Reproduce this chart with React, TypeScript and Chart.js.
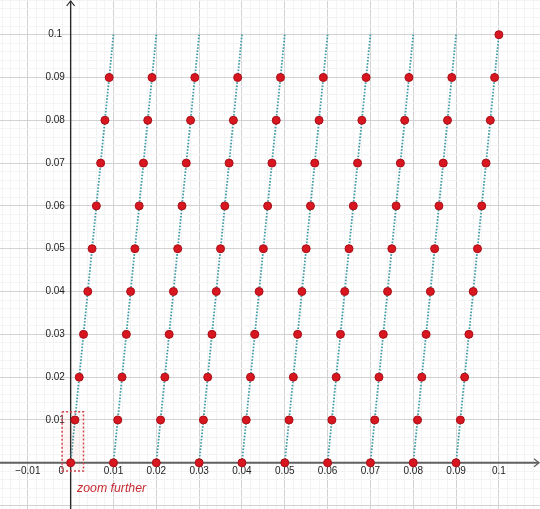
import { useEffect, useRef } from 'react';
import { Chart, registerables } from 'chart.js';

Chart.register(...registerables);

// visible window of the graph
const X_MIN = -0.0165;
const X_MAX = 0.1096;
const Y_MIN = -0.0108;
const Y_MAX = 0.1081;

// heights of the point rows
const yLevels = [0, 0.01, 0.02, 0.03, 0.04, 0.05, 0.06, 0.07, 0.08, 0.09];

// x of the points in each slanted column (bottom to top)
const col0 = [0, 0.001, 0.002, 0.003, 0.004, 0.005, 0.006, 0.007, 0.008, 0.009];
const col1 = [0.01, 0.011, 0.012, 0.013, 0.014, 0.015, 0.016, 0.017, 0.018, 0.019];
const col2 = [0.02, 0.021, 0.022, 0.023, 0.024, 0.025, 0.026, 0.027, 0.028, 0.029];
const col3 = [0.03, 0.031, 0.032, 0.033, 0.034, 0.035, 0.036, 0.037, 0.038, 0.039];
const col4 = [0.04, 0.041, 0.042, 0.043, 0.044, 0.045, 0.046, 0.047, 0.048, 0.049];
const col5 = [0.05, 0.051, 0.052, 0.053, 0.054, 0.055, 0.056, 0.057, 0.058, 0.059];
const col6 = [0.06, 0.061, 0.062, 0.063, 0.064, 0.065, 0.066, 0.067, 0.068, 0.069];
const col7 = [0.07, 0.071, 0.072, 0.073, 0.074, 0.075, 0.076, 0.077, 0.078, 0.079];
const col8 = [0.08, 0.081, 0.082, 0.083, 0.084, 0.085, 0.086, 0.087, 0.088, 0.089];
const col9 = [0.09, 0.091, 0.092, 0.093, 0.094, 0.095, 0.096, 0.097, 0.098, 0.099];
const columns = [col0, col1, col2, col3, col4, col5, col6, col7, col8, col9];

// the lone point at the top right
const extraPointX = [0.1];
const extraPointY = [0.1];

// dotted segments: start (x, 0) -> end (x, 0.1)
const segStartX = [0, 0.01, 0.02, 0.03, 0.04, 0.05, 0.06, 0.07, 0.08, 0.09];
const segEndX = [0.01, 0.02, 0.03, 0.04, 0.05, 0.06, 0.07, 0.08, 0.09, 0.1];
const segStartY = 0;
const segEndY = 0.1;

// "zoom further" box
const boxX = [-0.002, 0.003, 0.003, -0.002, -0.002];
const boxY = [0.0119, 0.0119, -0.0019, -0.0019, 0.0119];
const boxLabel = 'zoom further';
const boxLabelX = 0.0015;
const boxLabelY = -0.0068;

// axis tick labels
const xTickValues = [-0.01, 0.01, 0.02, 0.03, 0.04, 0.05, 0.06, 0.07, 0.08, 0.09, 0.1];
const xTickLabels = ['\u22120.01', '0.01', '0.02', '0.03', '0.04', '0.05', '0.06', '0.07', '0.08', '0.09', '0.1'];
const yTickValues = [0.01, 0.02, 0.03, 0.04, 0.05, 0.06, 0.07, 0.08, 0.09, 0.1];
const yTickLabels = ['0.01', '0.02', '0.03', '0.04', '0.05', '0.06', '0.07', '0.08', '0.09', '0.1'];
const originLabel = '0';

const isMajor = (v: number) => Math.abs(v * 100 - Math.round(v * 100)) < 1e-6;

const overlayPlugin = {
  id: 'geoOverlay',
  beforeDatasetsDraw(chart: any) {
    const { ctx, chartArea } = chart;
    const xs = chart.scales.x;
    const ys = chart.scales.y;
    const x0 = xs.getPixelForValue(0);
    const y0 = ys.getPixelForValue(0);
    ctx.save();
    // x axis
    ctx.strokeStyle = '#606060';
    ctx.lineWidth = 2;
    ctx.beginPath();
    ctx.moveTo(chartArea.left, y0);
    ctx.lineTo(chartArea.right - 1, y0);
    ctx.stroke();
    ctx.lineWidth = 1.3;
    ctx.beginPath();
    ctx.moveTo(chartArea.right - 6, y0 - 4);
    ctx.lineTo(chartArea.right - 1, y0);
    ctx.lineTo(chartArea.right - 6, y0 + 4);
    ctx.stroke();
    // y axis
    ctx.strokeStyle = '#2a2a2a';
    ctx.lineWidth = 1.4;
    ctx.beginPath();
    ctx.moveTo(x0, chartArea.bottom);
    ctx.lineTo(x0, chartArea.top + 1);
    ctx.stroke();
    ctx.lineWidth = 1.2;
    ctx.beginPath();
    ctx.moveTo(x0 - 4, chartArea.top + 6);
    ctx.lineTo(x0, chartArea.top + 1);
    ctx.lineTo(x0 + 4, chartArea.top + 6);
    ctx.stroke();

    // labels
    ctx.fillStyle = '#222222';
    ctx.font = '10px "Liberation Sans", Arial, sans-serif';
    ctx.textAlign = 'center';
    ctx.textBaseline = 'middle';
    xTickValues.forEach((v, i) => {
      ctx.fillText(xTickLabels[i], xs.getPixelForValue(v), y0 + 8.5);
    });
    yTickValues.forEach((v, i) => {
      ctx.fillText(yTickLabels[i], x0 - 15.5, ys.getPixelForValue(v));
    });
    ctx.fillText(originLabel, x0 - 9.5, y0 + 8.5);
    ctx.restore();
  },
  afterDatasetsDraw(chart: any) {
    const { ctx } = chart;
    const xs = chart.scales.x;
    const ys = chart.scales.y;
    ctx.save();
    ctx.fillStyle = '#c62a32';
    ctx.font = 'italic 12.3px "Liberation Sans", Arial, sans-serif';
    ctx.textAlign = 'left';
    ctx.textBaseline = 'alphabetic';
    ctx.fillText(boxLabel, xs.getPixelForValue(boxLabelX), ys.getPixelForValue(boxLabelY));
    ctx.restore();
  },
};

export default function App() {
  const canvasRef = useRef<HTMLCanvasElement | null>(null);

  useEffect(() => {
    document.body.style.margin = '0';
    const canvas = canvasRef.current;
    if (!canvas) return;

    const pointData: { x: number; y: number }[] = [];
    columns.forEach((col) => {
      col.forEach((xv, j) => pointData.push({ x: xv, y: yLevels[j] }));
    });
    extraPointX.forEach((xv, i) => pointData.push({ x: xv, y: extraPointY[i] }));

    const segmentSets = segStartX.map((sx, i) => ({
      type: 'scatter' as const,
      data: [
        { x: sx, y: segStartY },
        { x: segEndX[i], y: segEndY },
      ],
      showLine: true,
      borderColor: '#3f9ba6',
      borderWidth: 1.8,
      borderDash: [1.6, 1.6],
      pointRadius: 0,
      pointHoverRadius: 0,
      fill: false,
    }));

    const chart = new Chart(canvas, {
      type: 'scatter',
      data: {
        datasets: [
          {
            data: pointData,
            backgroundColor: '#d8161f',
            borderColor: '#a90f18',
            borderWidth: 1,
            pointRadius: 4,
            pointHoverRadius: 4,
          },
          {
            data: boxX.map((bx, i) => ({ x: bx, y: boxY[i] })),
            showLine: true,
            borderColor: '#d0454c',
            borderWidth: 1.5,
            borderDash: [2, 2],
            backgroundColor: 'rgba(230, 90, 90, 0.06)',
            fill: 'shape',
            pointRadius: 0,
            pointHoverRadius: 0,
          } as any,
          ...segmentSets,
        ],
      },
      options: {
        animation: false,
        responsive: false,
        maintainAspectRatio: false,
        devicePixelRatio: 1,
        layout: { padding: 0, autoPadding: false },
        plugins: {
          legend: { display: false },
          tooltip: { enabled: false },
        },
        events: [],
        scales: {
          x: {
            type: 'linear',
            min: X_MIN,
            max: X_MAX,
            border: { display: false },
            ticks: {
              display: false,
              stepSize: 0.002,
              maxTicksLimit: 1000,
              autoSkip: false,
              includeBounds: false,
            },
            grid: {
              drawTicks: false,
              lineWidth: 1,
              color: (c: any) => (isMajor(c.tick.value) ? '#d2d2d2' : '#f3f3f3'),
            },
          },
          y: {
            type: 'linear',
            min: Y_MIN,
            max: Y_MAX,
            border: { display: false },
            ticks: {
              display: false,
              stepSize: 0.002,
              maxTicksLimit: 1000,
              autoSkip: false,
              includeBounds: false,
            },
            grid: {
              drawTicks: false,
              lineWidth: 1,
              color: (c: any) => (isMajor(c.tick.value) ? '#d2d2d2' : '#f3f3f3'),
            },
          },
        },
      } as any,
      plugins: [overlayPlugin],
    });

    return () => chart.destroy();
  }, []);

  return (
    <div style={{ width: 540, height: 509, background: '#ffffff' }}>
      <canvas ref={canvasRef} width={540} height={509} style={{ display: 'block' }} />
    </div>
  );
}
